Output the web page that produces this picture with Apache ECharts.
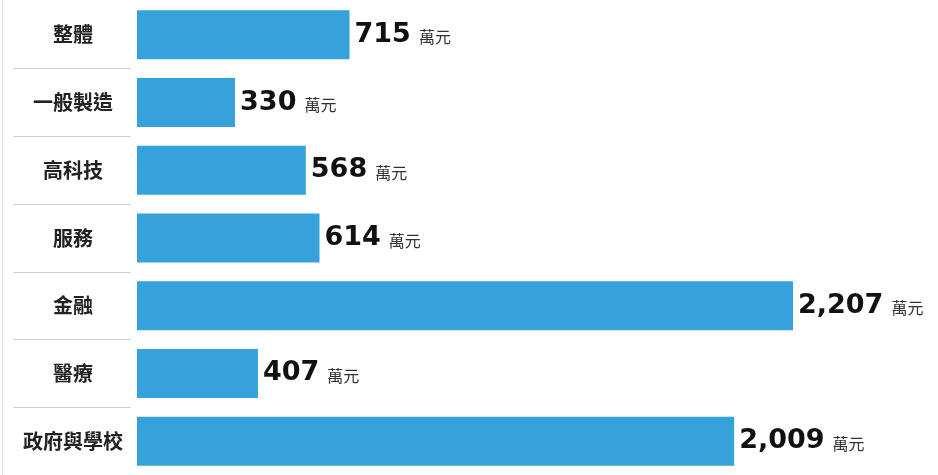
<!DOCTYPE html>
<html><head><meta charset="utf-8">
<script src="https://cdn.jsdelivr.net/npm/echarts@6/dist/echarts.min.js"></script>
<style>html,body{margin:0;padding:0;background:#fff}#c{width:938px;height:475px}</style>
</head><body><div id="c"></div>
<script>
const categories = ['整體','一般製造','高科技','服務','金融','醫療','政府與學校'];
const values = [715, 330, 568, 614, 2207, 407, 2009];
const unit = '萬元';

const chart = echarts.init(document.getElementById('c'));
const fmt = v => v.toLocaleString('en-US');
chart.setOption({
  animation: false,
  grid: [
    {left: 137, right: 145, top: 1, height: 476},
    {left: 13, width: 118, top: 1, height: 476}
  ],
  xAxis: [
    {type: 'value', gridIndex: 0, min: 0, max: 2207, show: false},
    {type: 'value', gridIndex: 1, show: false}
  ],
  yAxis: [
    {type: 'category', gridIndex: 0, data: categories, inverse: true, show: false},
    {type: 'category', gridIndex: 1, data: categories, inverse: true,
     axisLine: {show: false}, axisTick: {show: false},
     axisLabel: {inside: true, margin: 60, align: 'center',
       fontFamily: '"Noto Sans CJK TC", sans-serif', fontWeight: 'bold', fontSize: 20, color: '#222'},
     splitLine: {show: true, interval: 0,
       lineStyle: {color: ['rgba(0,0,0,0)', '#cfcfcf','#cfcfcf','#cfcfcf','#cfcfcf','#cfcfcf','#cfcfcf','rgba(0,0,0,0)'], width: 1}}
    }
  ],
  series: [{
    type: 'bar', xAxisIndex: 0, yAxisIndex: 0,
    data: values, barWidth: 49,
    itemStyle: {color: '#35a2dc'},
    label: {
      show: true, position: 'right', distance: 5,
      formatter: p => '{n|' + fmt(p.value) + '}{u|' + unit + '}',
      rich: {
        n: {fontFamily: '"DejaVu Sans", sans-serif', fontWeight: 'bold', fontSize: 27, color: '#111'},
        u: {fontFamily: '"Noto Sans CJK TC", sans-serif', fontSize: 16, color: '#333', padding: [5, 0, 0, 8]}
      }
    }
  }],
  graphic: [{type: 'line', shape: {x1: 2.5, y1: 0, x2: 2.5, y2: 475}, style: {stroke: '#e2e2e2', lineWidth: 1}}]
});
</script></body></html>
